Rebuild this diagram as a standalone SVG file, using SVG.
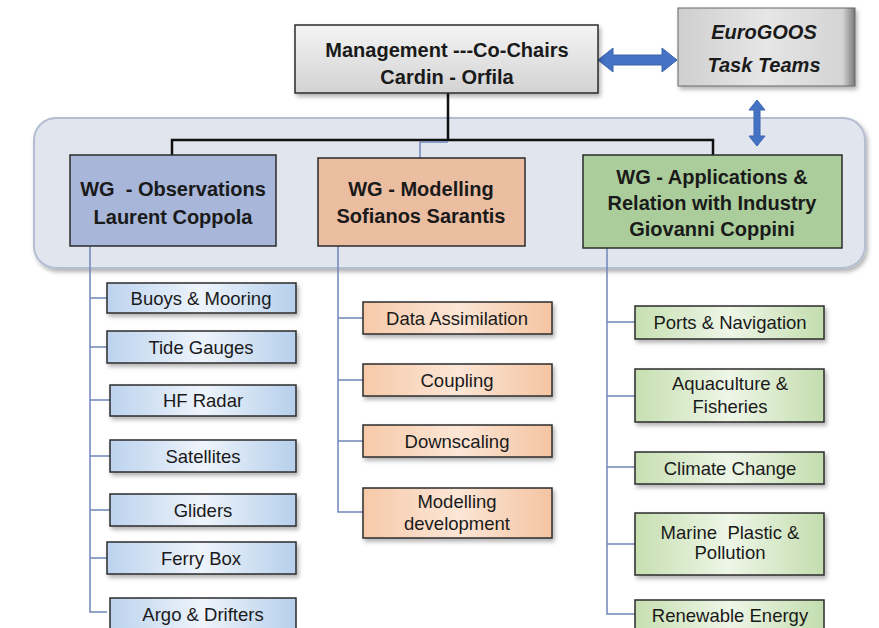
<svg xmlns="http://www.w3.org/2000/svg" width="879" height="628" viewBox="0 0 879 628">
<defs>
<linearGradient id="gMgmt" x1="0" y1="0" x2="0" y2="1"><stop offset="0" stop-color="#f4f4f4"/><stop offset="1" stop-color="#d2d2d2"/></linearGradient>
<linearGradient id="gEuro" x1="0" y1="0" x2="1" y2="0"><stop offset="0" stop-color="#cfcfcf"/><stop offset="0.5" stop-color="#e6e6e6"/><stop offset="0.93" stop-color="#d4d4d4"/><stop offset="1" stop-color="#7a7a7a"/></linearGradient>
<linearGradient id="gBlue" x1="0" y1="0" x2="1" y2="0"><stop offset="0" stop-color="#bcd3ee"/><stop offset="0.5" stop-color="#eef4fb"/><stop offset="1" stop-color="#b6cfec"/></linearGradient>
<linearGradient id="gPeach" x1="0" y1="0" x2="1" y2="0"><stop offset="0" stop-color="#f6c9a8"/><stop offset="0.5" stop-color="#fce6d6"/><stop offset="1" stop-color="#f4c4a2"/></linearGradient>
<linearGradient id="gGreen" x1="0" y1="0" x2="1" y2="0"><stop offset="0" stop-color="#c6dfb1"/><stop offset="0.5" stop-color="#eef6e7"/><stop offset="1" stop-color="#c3ddae"/></linearGradient>
<filter id="sh" x="-10%" y="-10%" width="130%" height="140%"><feDropShadow dx="2" dy="3" stdDeviation="2" flood-color="#000" flood-opacity="0.3"/></filter>
</defs>
<style>
.t{font-family:"Liberation Sans",Arial,sans-serif;fill:#1a1a1a;text-anchor:middle;white-space:pre}
.tb{font-weight:bold;font-size:20px}
.ts{font-size:18.5px}
.box{stroke:#2b2b2b;stroke-width:1.5}
.br{fill:none;stroke:#6f86b8;stroke-width:1.5}
.blk{fill:none;stroke:#111;stroke-width:2.5}
.arr{fill:#4472c4;stroke:#3a64b0;stroke-width:1}
</style>
<rect width="879" height="628" fill="#ffffff"/>
<rect x="34" y="118" width="831" height="150" rx="22" fill="#e1e5ee" stroke="#b4bed2" stroke-width="2" filter="url(#sh)"/>

<g id="connectors">
<polyline class="blk" points="448,93 448,140"/>
<polyline class="blk" points="172,155 172,140 713,140 713,155"/>
<polyline class="br" points="448,142 420,142 420,158"/>
<polygon class="arr" points="598,60 613,48 613,55 662,55 662,48 677,60 662,72 662,65 613,65 613,72"/>
<polygon class="arr" points="757,100 765,110 760,110 760,136 765,136 757,146 749,136 754,136 754,110 749,110"/>
<polyline class="br" points="90,246 90,612 107,612"/>
<line class="br" x1="90" y1="298" x2="107" y2="298"/>
<line class="br" x1="90" y1="347" x2="107" y2="347"/>
<line class="br" x1="90" y1="400" x2="110" y2="400"/>
<line class="br" x1="90" y1="456" x2="110" y2="456"/>
<line class="br" x1="90" y1="510" x2="110" y2="510"/>
<line class="br" x1="90" y1="558" x2="107" y2="558"/>
<polyline class="br" points="338,246 338,512 363,512"/>
<line class="br" x1="338" y1="318" x2="363" y2="318"/>
<line class="br" x1="338" y1="380" x2="363" y2="380"/>
<line class="br" x1="338" y1="441" x2="363" y2="441"/>
<polyline class="br" points="607,248 607,614 635,614"/>
<line class="br" x1="607" y1="322" x2="635" y2="322"/>
<line class="br" x1="607" y1="396" x2="635" y2="396"/>
<line class="br" x1="607" y1="467" x2="635" y2="467"/>
<line class="br" x1="607" y1="544" x2="635" y2="544"/>
</g>

<g id="management">
<rect class="box" x="295" y="25" width="303" height="68" fill="url(#gMgmt)" stroke-width="2.5" filter="url(#sh)"/>
<text class="t tb" x="447" y="57" font-size="21">Management ---Co-Chairs</text>
<text class="t tb" x="447" y="84" font-size="21">Cardin - Orfila</text>
</g>
<g id="eurogoos">
<rect x="678" y="8" width="177" height="78" fill="url(#gEuro)" stroke="#666" stroke-width="1" filter="url(#sh)"/>
<text class="t tb" x="764" y="39" font-style="italic" font-size="19">EuroGOOS</text>
<text class="t tb" x="764" y="72" font-style="italic" font-size="19">Task Teams</text>
</g>

<g id="wg-observations">
<rect class="box" x="70" y="155" width="206" height="91" fill="#a7b6d9" stroke-width="2"/>
<text class="t tb" x="173" y="196">WG  - Observations</text>
<text class="t tb" x="173" y="224">Laurent Coppola</text>
</g>
<g id="wg-modelling">
<rect class="box" x="318" y="158" width="207" height="88" fill="#ebbea2" stroke-width="2"/>
<text class="t tb" x="421" y="196">WG - Modelling</text>
<text class="t tb" x="421" y="223">Sofianos Sarantis</text>
</g>
<g id="wg-applications">
<rect class="box" x="583" y="155" width="259" height="93" fill="#aacd9b" stroke-width="2"/>
<text class="t tb" x="712" y="184">WG - Applications &amp;</text>
<text class="t tb" x="712" y="210">Relation with Industry</text>
<text class="t tb" x="712" y="236">Giovanni Coppini</text>
</g>

<g id="obs-buoys"><rect class="box" x="107" y="283" width="189" height="30" fill="url(#gBlue)" filter="url(#sh)"/><text class="t ts" x="201" y="305">Buoys &amp; Mooring</text></g>
<g id="obs-tide"><rect class="box" x="107" y="331" width="189" height="32" fill="url(#gBlue)" filter="url(#sh)"/><text class="t ts" x="201" y="354">Tide Gauges</text></g>
<g id="obs-hf"><rect class="box" x="110" y="385" width="186" height="31" fill="url(#gBlue)" filter="url(#sh)"/><text class="t ts" x="203" y="407">HF Radar</text></g>
<g id="obs-sat"><rect class="box" x="110" y="440" width="186" height="32" fill="url(#gBlue)" filter="url(#sh)"/><text class="t ts" x="203" y="463">Satellites</text></g>
<g id="obs-gliders"><rect class="box" x="110" y="494" width="186" height="32" fill="url(#gBlue)" filter="url(#sh)"/><text class="t ts" x="203" y="517">Gliders</text></g>
<g id="obs-ferry"><rect class="box" x="107" y="542" width="189" height="32" fill="url(#gBlue)" filter="url(#sh)"/><text class="t ts" x="201" y="565">Ferry Box</text></g>
<g id="obs-argo"><rect class="box" x="110" y="598" width="186" height="32" fill="url(#gBlue)"/><text class="t ts" x="203" y="621">Argo &amp; Drifters</text></g>

<g id="mod-da"><rect class="box" x="363" y="302" width="189" height="32" fill="url(#gPeach)" filter="url(#sh)"/><text class="t ts" x="457" y="325">Data Assimilation</text></g>
<g id="mod-coupling"><rect class="box" x="363" y="364" width="189" height="32" fill="url(#gPeach)" filter="url(#sh)"/><text class="t ts" x="457" y="387">Coupling</text></g>
<g id="mod-down"><rect class="box" x="363" y="425" width="189" height="32" fill="url(#gPeach)" filter="url(#sh)"/><text class="t ts" x="457" y="448">Downscaling</text></g>
<g id="mod-dev"><rect class="box" x="363" y="488" width="189" height="50" fill="url(#gPeach)" filter="url(#sh)"/><text class="t ts" x="457" y="508">Modelling</text><text class="t ts" x="457" y="530">development</text></g>

<g id="app-ports"><rect class="box" x="635" y="306" width="189" height="33" fill="url(#gGreen)" filter="url(#sh)"/><text class="t ts" x="730" y="329">Ports &amp; Navigation</text></g>
<g id="app-aqua"><rect class="box" x="635" y="369" width="189" height="53" fill="url(#gGreen)" filter="url(#sh)"/><text class="t ts" x="730" y="390">Aquaculture &amp;</text><text class="t ts" x="730" y="413">Fisheries</text></g>
<g id="app-climate"><rect class="box" x="635" y="452" width="189" height="32" fill="url(#gGreen)" filter="url(#sh)"/><text class="t ts" x="730" y="475">Climate Change</text></g>
<g id="app-plastic"><rect class="box" x="635" y="513" width="189" height="62" fill="url(#gGreen)" filter="url(#sh)"/><text class="t ts" x="730" y="539">Marine  Plastic &amp;</text><text class="t ts" x="730" y="559">Pollution</text></g>
<g id="app-renew"><rect class="box" x="635" y="600" width="189" height="32" fill="url(#gGreen)"/><text class="t ts" x="730" y="622">Renewable Energy</text></g>
</svg>
